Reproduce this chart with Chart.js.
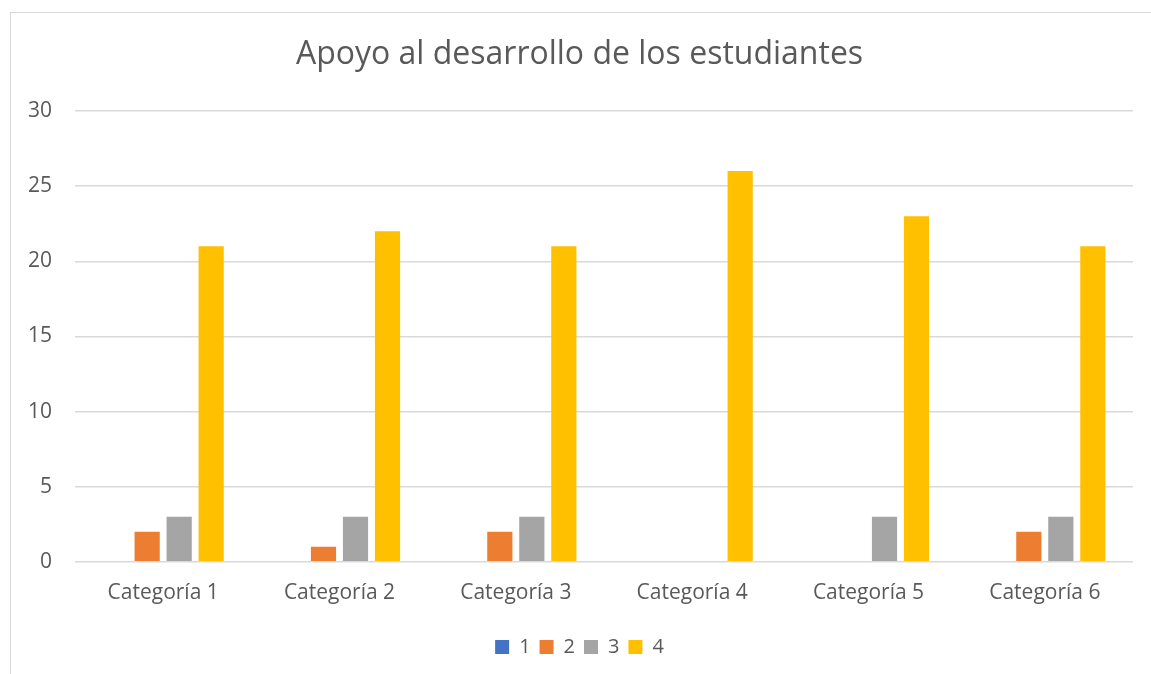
<!DOCTYPE html>
<html>
<head>
<meta charset="utf-8">
<script src="https://cdn.jsdelivr.net/npm/chart.js@4/dist/chart.umd.min.js"></script>
<style>
  html, body { margin: 0; padding: 0; background: #fff; overflow: hidden; }
  #frame { position: absolute; left: 10px; top: 12px; width: 1300px; height: 800px; border: 1.5px solid #d9d9d9; box-sizing: border-box; }
  #c { position: absolute; left: 0; top: 0; }
</style>
</head>
<body>
<div id="frame"></div>
<canvas id="c" width="1151" height="674"></canvas>
<script>
const titleText = 'Apoyo al desarrollo de los estudiantes';
const categories = ['Categoría 1', 'Categoría 2', 'Categoría 3', 'Categoría 4', 'Categoría 5', 'Categoría 6'];
const seriesNames = ['1', '2', '3', '4'];
const series1 = [0, 0, 0, 0, 0, 0];
const series2 = [2, 1, 2, 0, 0, 2];
const series3 = [3, 3, 3, 0, 3, 3];
const series4 = [21, 22, 21, 26, 23, 21];
const seriesColors = ['#4472C4', '#ED7D31', '#A5A5A5', '#FFC000'];
const yMin = 0, yMax = 30, yStep = 5;

const font = 'Open Sans';
const textColor = '#595959';

const values = [series1, series2, series3, series4];
const datasets = values.map((v, i) => ({
  label: seriesNames[i],
  data: v,
  backgroundColor: seriesColors[i],
  borderWidth: 0,
  categoryPercentage: 0.726,
  barPercentage: 0.787
}));

new Chart(document.getElementById('c'), {
  type: 'bar',
  data: { labels: categories, datasets: datasets },
  options: {
    responsive: false,
    devicePixelRatio: 1,
    animation: false,
    layout: { padding: { left: 26, right: 18, top: 13, bottom: 7 } },
    plugins: {
      title: {
        display: true,
        text: titleText,
        color: textColor,
        font: { family: font, size: 32, weight: 'normal', lineHeight: 1.2 },
        padding: { top: 23, bottom: 36.6 }
      },
      legend: {
        position: 'bottom',
        labels: {
          color: textColor,
          font: { family: font, size: 20 },
          boxWidth: 14,
          boxHeight: 14,
          padding: 9
        }
      },
      tooltip: { enabled: false }
    },
    scales: {
      x: {
        grid: { display: false },
        border: { display: false },
        ticks: { color: textColor, font: { family: font, size: 21 }, padding: 11 },
        afterFit: (s) => { s.height = s.height + 11; }
      },
      y: {
        min: yMin,
        max: yMax,
        ticks: { stepSize: yStep, color: textColor, font: { family: font, size: 21 }, padding: 23 },
        grid: { color: '#d9d9d9', lineWidth: 1.5, drawTicks: false },
        border: { display: false },
        afterFit: (s) => { s.width = 49; }
      }
    }
  }
});
</script>
</body>
</html>
